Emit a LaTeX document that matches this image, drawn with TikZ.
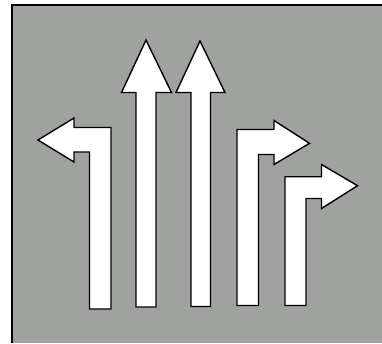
\documentclass[tikz,border=0pt]{standalone}
\definecolor{bggray}{RGB}{159,162,158}
\begin{document}
\begin{tikzpicture}[x=1pt,y=-1pt,
  arrowshape/.style={fill=white,draw=black,line width=1.4pt,line join=miter}]
\useasboundingbox (0,0) rectangle (382,343);
\fill[white] (0,0) rectangle (382,343);
\fill[bggray] (12,5) rectangle (382,343);
\draw[line width=2pt] (12,343) -- (12,5) -- (382,5);
% left turn arrow
\draw[arrowshape] (89.5,309) -- (111,309) -- (111,127.5) -- (74,127.5) -- (74,118) -- (38,140) -- (74,162) -- (74,152) -- (89.5,152) -- cycle;
% straight arrow 1
\draw[arrowshape] (136,307) -- (156,307) -- (156,92.5) -- (171.5,92.5) -- (146,40) -- (121.5,92.5) -- (136,92.5) -- cycle;
% straight arrow 2
\draw[arrowshape] (191,306.5) -- (210.5,306.5) -- (210.5,92.5) -- (225,92.5) -- (200,41) -- (176,92.5) -- (191,92.5) -- cycle;
% right turn arrow 1
\draw[arrowshape] (237,305.5) -- (258.5,305.5) -- (258.5,154.5) -- (274,154.5) -- (274,164.5) -- (309.5,143.3) -- (274,120.5) -- (274,129.5) -- (237,129.5) -- cycle;
% right turn arrow 2
\draw[arrowshape] (285,305.5) -- (306,305.5) -- (306,198.5) -- (321.5,198.5) -- (321.5,208.5) -- (357.5,185.7) -- (321.5,164.5) -- (321.5,176.7) -- (285,176.7) -- cycle;
\end{tikzpicture}
\end{document}
